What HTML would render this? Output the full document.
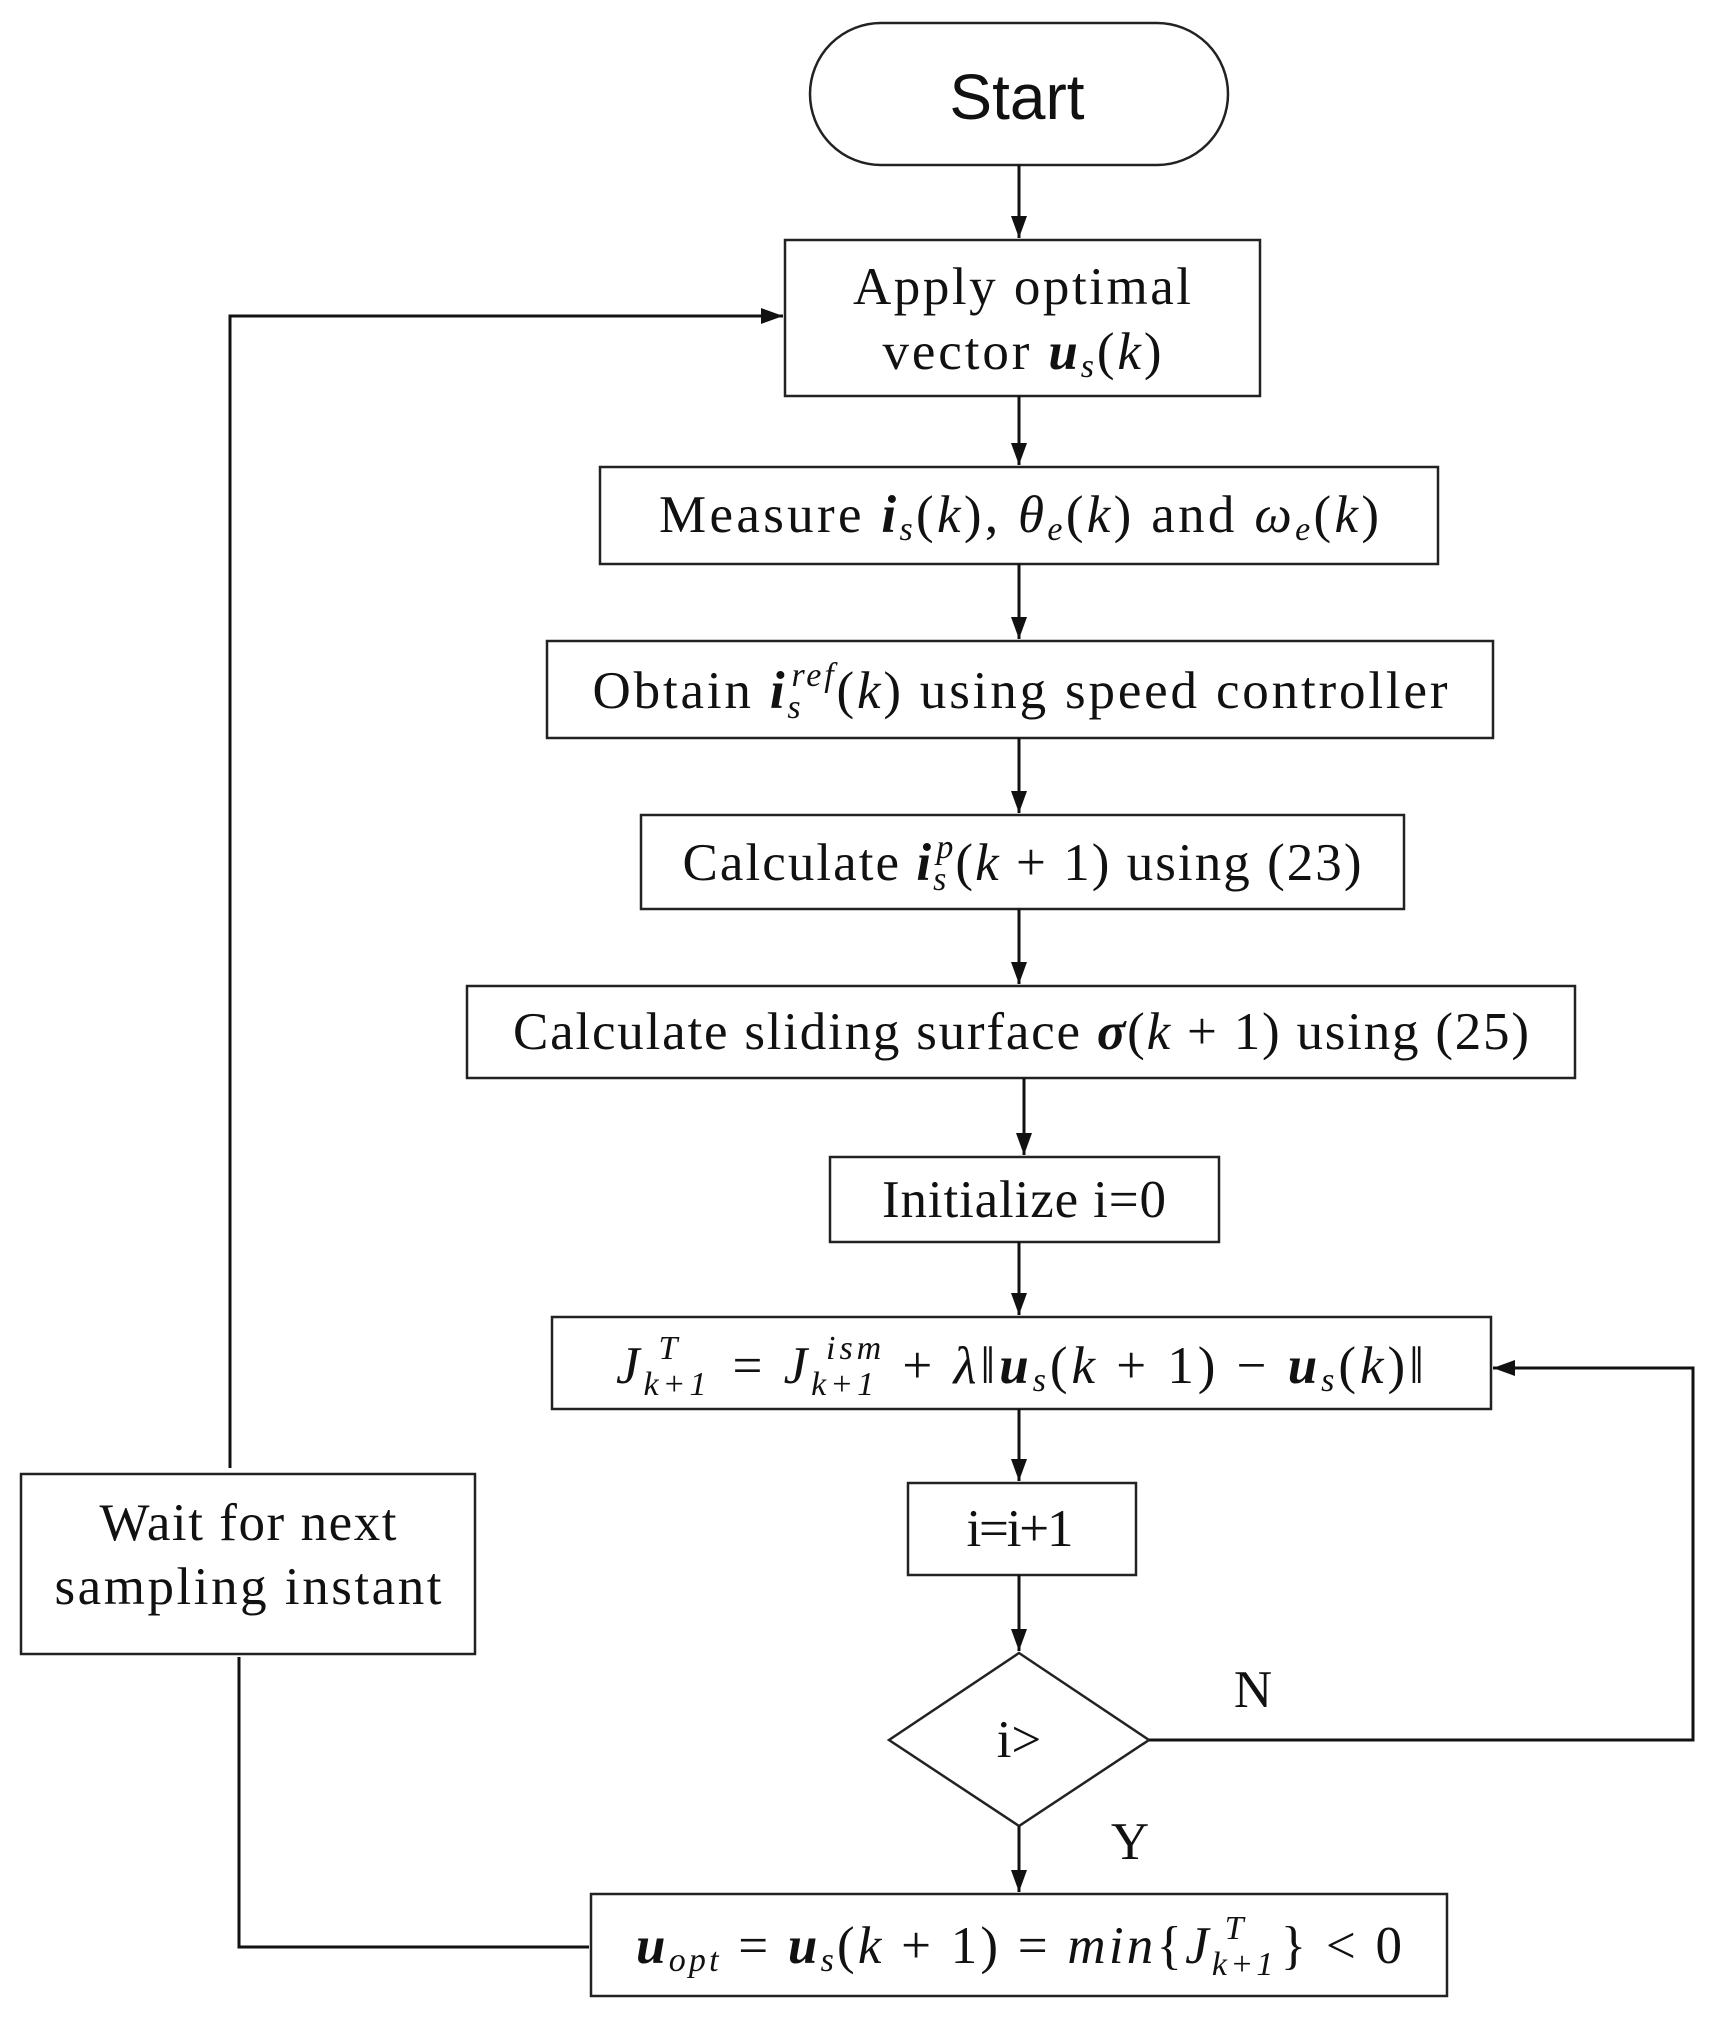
<!DOCTYPE html>
<html><head><meta charset="utf-8"><style>
body{margin:0;background:#fff}
.t{font-family:"Liberation Serif",serif;font-size:53px;fill:#111}
.m{font-family:"Liberation Serif",serif;font-style:italic}
.b{font-weight:bold}
</style></head><body>
<svg width="1715" height="2020" viewBox="0 0 1715 2020" xmlns="http://www.w3.org/2000/svg">
<defs>
<marker id="A" markerWidth="24" markerHeight="20" refX="22" refY="10" orient="auto" markerUnits="userSpaceOnUse"><path d="M0,2 L22,10 L0,18 z" fill="#111"/></marker></defs>
<g fill="none" stroke="#222" stroke-width="2.5">
<rect x="810" y="23" width="418" height="142" rx="71"/>
<rect x="785" y="240" width="475" height="156"/>
<rect x="600" y="467" width="838" height="97"/>
<rect x="547" y="641" width="946" height="97"/>
<rect x="641" y="815" width="763" height="94"/>
<rect x="467" y="986" width="1108" height="92"/>
<rect x="830" y="1157" width="389" height="85"/>
<rect x="552" y="1317" width="939" height="92"/>
<rect x="908" y="1483" width="228" height="92"/>
<polygon points="1019,1653 1149,1740 1019,1826 889,1740"/>
<rect x="591" y="1894" width="856" height="102"/>
<rect x="21" y="1474" width="454" height="180"/>
</g>
<g stroke="#111" stroke-width="3" fill="none">
<line x1="1019" y1="165" x2="1019" y2="238" marker-end="url(#A)"/>
<line x1="1019" y1="396" x2="1019" y2="465" marker-end="url(#A)"/>
<line x1="1019" y1="564" x2="1019" y2="639" marker-end="url(#A)"/>
<line x1="1019" y1="738" x2="1019" y2="813" marker-end="url(#A)"/>
<line x1="1019" y1="909" x2="1019" y2="984" marker-end="url(#A)"/>
<line x1="1024" y1="1078" x2="1024" y2="1155" marker-end="url(#A)"/>
<line x1="1019" y1="1242" x2="1019" y2="1315" marker-end="url(#A)"/>
<line x1="1019" y1="1409" x2="1019" y2="1481" marker-end="url(#A)"/>
<line x1="1019" y1="1575" x2="1019" y2="1651" marker-end="url(#A)"/>
<line x1="1019" y1="1826" x2="1019" y2="1892" marker-end="url(#A)"/>
<polyline points="1149,1740 1693,1740 1693,1368 1493,1368" marker-end="url(#A)"/>
<polyline points="230,1468 230,316 783,316" marker-end="url(#A)"/>
<polyline points="239,1657 239,1947 589,1947"/>
</g>
<text x="1017" y="119" text-anchor="middle" font-family="Liberation Sans,sans-serif" font-size="64" fill="#111">Start</text>
<text class="t" x="1022" y="304" text-anchor="middle" textLength="338">Apply optimal</text>
<text class="t" x="1022" y="369" text-anchor="middle" textLength="279">vector <tspan class="m b">u</tspan><tspan class="m" font-size="34" dy="8">s</tspan><tspan dy="-8">(</tspan><tspan class="m">k</tspan>)</text>
<text class="t" x="1019" y="532" text-anchor="middle" textLength="720">Measure <tspan class="m b">i</tspan><tspan class="m" font-size="34" dy="8">s</tspan><tspan dy="-8">(</tspan><tspan class="m">k</tspan>), <tspan class="m">θ</tspan><tspan class="m" font-size="34" dy="8">e</tspan><tspan dy="-8">(</tspan><tspan class="m">k</tspan>) and <tspan class="m">ω</tspan><tspan class="m" font-size="34" dy="8">e</tspan><tspan dy="-8">(</tspan><tspan class="m">k</tspan>)</text>
<text class="t" x="1020" y="708" text-anchor="middle" textLength="855">Obtain <tspan class="m b">i</tspan><tspan class="m" font-size="34" dy="10">s</tspan><tspan class="m" font-size="34" dx="-12" dy="-32">ref</tspan><tspan dy="22">(</tspan><tspan class="m">k</tspan>) using speed controller</text>
<text class="t" x="1022" y="880" text-anchor="middle" textLength="679">Calculate <tspan class="m b">i</tspan><tspan class="m" font-size="34" dy="10">s</tspan><tspan class="m" font-size="34" dx="-12" dy="-32">p</tspan><tspan dy="22">(</tspan><tspan class="m">k</tspan> + 1) using (23)</text>
<text class="t" x="1021" y="1049" text-anchor="middle" textLength="1016">Calculate sliding surface <tspan class="b m">σ</tspan>(<tspan class="m">k</tspan> + 1) using (25)</text>
<text class="t" x="1024" y="1217" text-anchor="middle" textLength="284">Initialize i=0</text>
<text class="t" x="1020" y="1383" text-anchor="middle" textLength="808"><tspan class="m">J</tspan><tspan class="m" font-size="34" dy="12">k+1</tspan><tspan class="m" font-size="34" dx="-52" dy="-36">T</tspan><tspan dx="34" dy="24"> = </tspan><tspan class="m">J</tspan><tspan class="m" font-size="34" dy="12">k+1</tspan><tspan class="m" font-size="34" dx="-52" dy="-36">ism</tspan><tspan dy="24"> + </tspan><tspan class="m">λ</tspan>‖<tspan class="m b">u</tspan><tspan class="m" font-size="34" dy="8">s</tspan><tspan dy="-8">(</tspan><tspan class="m">k</tspan> + 1) − <tspan class="m b">u</tspan><tspan class="m" font-size="34" dy="8">s</tspan><tspan dy="-8">(</tspan><tspan class="m">k</tspan>)‖</text>
<text class="t" x="1020" y="1546" text-anchor="middle" textLength="107">i=i+1</text>
<text class="t" x="1019" y="1757" text-anchor="middle" font-size="44">i&gt;</text>
<text class="t" x="1253" y="1707" text-anchor="middle">N</text>
<text class="t" x="1130" y="1859" text-anchor="middle">Y</text>
<text class="t" x="1019" y="1963" text-anchor="middle" textLength="766"><tspan class="m b">u</tspan><tspan class="m" font-size="34" dy="8">opt</tspan><tspan dy="-8"> = </tspan><tspan class="m b">u</tspan><tspan class="m" font-size="34" dy="8">s</tspan><tspan dy="-8">(</tspan><tspan class="m">k</tspan> + 1) = <tspan class="m">min</tspan>{<tspan class="m">J</tspan><tspan class="m" font-size="34" dy="12">k+1</tspan><tspan class="m" font-size="34" dx="-52" dy="-36">T</tspan><tspan dx="34" dy="24">} &lt; 0</tspan></text>
<text class="t" x="248" y="1540" text-anchor="middle" textLength="297">Wait for next</text>
<text class="t" x="248" y="1604" text-anchor="middle" textLength="387">sampling instant</text>
</svg>
</body></html>
